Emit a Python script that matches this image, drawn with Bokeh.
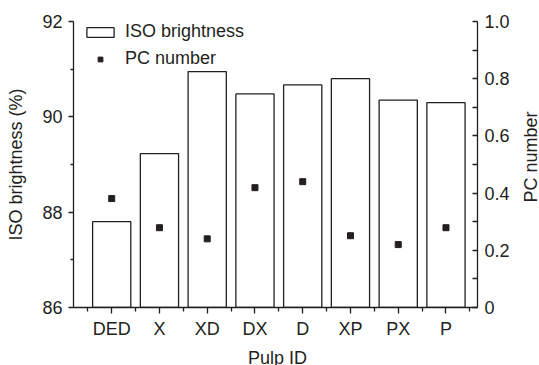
import math
from bokeh.plotting import figure
from bokeh.layouts import column, row
from bokeh.models import (Range1d, LinearAxis, FixedTicker, CustomJSTickFormatter,
                          ColumnDataSource, Legend, LegendItem)
from bokeh.core.properties import value
from bokeh.embed import file_html
from bokeh.resources import INLINE

categories = ["DED", "X", "XD", "DX", "D", "XP", "PX", "P"]
iso_brightness = [87.80, 89.23, 90.95, 90.48, 90.67, 90.80, 90.35, 90.30]
pc_number = [0.381, 0.279, 0.240, 0.419, 0.440, 0.251, 0.220, 0.279]
x_title = "Pulp ID"
y_title = "ISO brightness (%)"
y2_title = "PC number"

INK = "#231f20"
FONT = "Liberation Sans"
FS = "18px"

W, H = 539, 365
MW, MH = 512, 342          # main figure size
BL, BR, BT, BB = 73, 35, 21, 35
FW, FH = MW - BL - BR, MH - BT - BB

xs = list(range(1, len(categories) + 1))
src = ColumnDataSource(dict(x=xs, iso=iso_brightness, pc=pc_number, cat=categories))

p = figure(width=MW, height=MH, output_backend="svg", toolbar_location=None,
           x_range=Range1d(0.2, 8.66), y_range=Range1d(86, 92),
           min_border_left=BL, min_border_right=BR, min_border_top=BT, min_border_bottom=BB)
p.outline_line_color = None
p.grid.visible = False
p.background_fill_color = "white"
p.border_fill_color = "white"

p.extra_y_ranges = {"pc": Range1d(0, 1)}

bars = p.vbar(x="x", top="iso", bottom=86, width=0.8, source=src,
              fill_color="white", line_color=INK, line_width=1.3)
pts = p.scatter(x="x", y="pc", source=src, y_range_name="pc", marker="square",
                size=6, fill_color=INK, line_color=INK)

def style(ax, major_out=5, minor_out=3, major_in=0, minor_in=0):
    ax.axis_line_color = INK
    ax.axis_line_width = 1.3
    ax.major_tick_line_color = INK
    ax.minor_tick_line_color = INK
    ax.major_tick_line_width = 1.3
    ax.minor_tick_line_width = 1.3
    ax.major_tick_in = major_in
    ax.major_tick_out = major_out
    ax.minor_tick_in = minor_in
    ax.minor_tick_out = minor_out
    ax.major_label_text_font = FONT
    ax.major_label_text_font_size = FS
    ax.major_label_text_color = INK
    ax.axis_label_text_font = FONT
    ax.axis_label_text_font_size = FS
    ax.axis_label_text_font_style = "normal"
    ax.axis_label_text_color = INK
    ax.major_label_standoff = 6

# bottom axis
xax = p.xaxis[0]
xax.ticker = FixedTicker(ticks=xs, minor_ticks=[v + 0.5 for v in range(0, len(categories) + 1)])
xax.major_label_overrides = {i: c for i, c in zip(xs, categories)}
style(xax, 6, 4)
xax.major_label_standoff = 5

# left axis
yax = p.yaxis[0]
yax.ticker = FixedTicker(ticks=[86, 88, 90, 92], minor_ticks=[87, 89, 91])
yax.axis_label = y_title
style(yax)
yax.axis_label_standoff = 13

# right axis (ticks point inward)
rax = LinearAxis(y_range_name="pc")
rax.ticker = FixedTicker(ticks=[0, 0.2, 0.4, 0.6, 0.8, 1.0], minor_ticks=[0.1, 0.3, 0.5, 0.7, 0.9])
rax.formatter = CustomJSTickFormatter(code="return tick == 0 ? '0' : tick.toFixed(1);")
style(rax, major_out=0, minor_out=0, major_in=5, minor_in=5)
rax.major_label_standoff = 7
p.add_layout(rax, "right")

legend = Legend(items=[LegendItem(label="ISO brightness", renderers=[bars]),
                       LegendItem(label="PC number", renderers=[pts])],
                location=(10, FH - 48), padding=0, margin=0, spacing=6,
                glyph_width=34, glyph_height=12, label_height=21, label_standoff=8,
                label_text_font=FONT, label_text_font_size=FS, label_text_color=INK,
                border_line_alpha=0, background_fill_alpha=0)
p.add_layout(legend, "center")

def strip(w, h):
    f = figure(width=w, height=h, output_backend="svg", toolbar_location=None,
               x_range=Range1d(0, w), y_range=Range1d(0, h),
               x_axis_type=None, y_axis_type=None, min_border=0,
               min_border_left=0, min_border_right=0, min_border_top=0, min_border_bottom=0)
    f.outline_line_color = None
    f.grid.visible = False
    f.background_fill_color = "white"
    f.border_fill_color = "white"
    return f

# right strip with the secondary axis title (reads bottom-to-top)
rs = strip(W - MW, MH)
rs.text(x=[18], y=[MH - 162], text=[y2_title], angle=math.pi / 2,
        text_font=value(FONT), text_font_size=FS, text_color=INK,
        text_align="center", text_baseline="alphabetic")

# bottom strip with the x axis title
bs = strip(W, H - MH)
bs.text(x=[277], y=[8], text=[x_title],
        text_font=value(FONT), text_font_size=FS, text_color=INK,
        text_align="center", text_baseline="alphabetic")

layout = column(row(p, rs, spacing=0), bs, spacing=0)

open("out.html", "w").write(file_html(layout, INLINE))
